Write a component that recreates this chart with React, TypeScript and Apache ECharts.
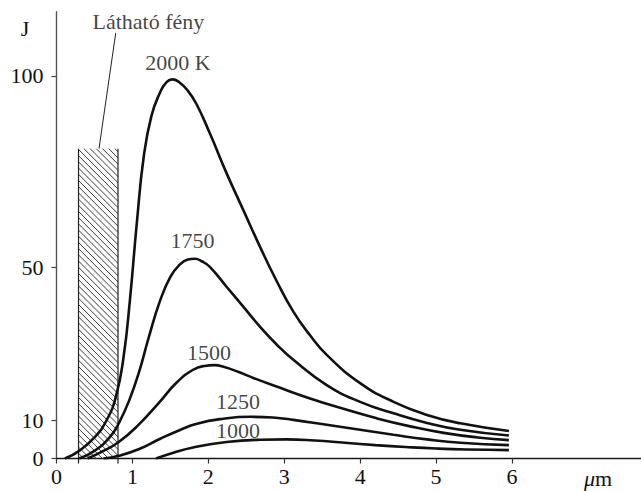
import React, { useEffect, useRef } from "react";
import * as echarts from "echarts";

// wavelength (µm) vs. emitted intensity J
const xTicks = [0, 1, 2, 3, 4, 5, 6];
const yTicks = [0, 10, 50, 100];

const curve2000: [number, number][] = [
  [0.11, 0], [0.3, 2.0], [0.5, 5.5], [0.66, 10], [0.78, 16], [0.88, 26], [0.97, 42], [1.06, 62],
  [1.15, 79], [1.25, 89.5], [1.36, 95.5], [1.45, 98.4], [1.53, 99.1], [1.62, 98.3], [1.72, 96.4],
  [1.84, 92.8], [2.02, 85], [2.24, 74.6], [2.46, 65.0], [2.68, 55.4], [2.9, 46.4], [3.12, 38.4],
  [3.34, 32.2], [3.56, 27.1], [4.0, 19.7], [4.44, 14.8], [4.88, 11.4], [5.32, 9.2], [5.96, 7.2],
];
const curve1750: [number, number][] = [
  [0.3, 0], [0.5, 2], [0.7, 5.5], [0.82, 9.2], [0.96, 15.3], [1.09, 22.8], [1.22, 32],
  [1.36, 41], [1.5, 47.5], [1.62, 50.6], [1.73, 52.0], [1.82, 52.2], [1.92, 51.5], [2.02, 50.1],
  [2.24, 44.9], [2.46, 39.7], [2.68, 34.5], [2.9, 29.8], [3.12, 25.8], [3.56, 19.2], [4.0, 14.8],
  [4.44, 11.8], [4.88, 9.3], [5.32, 7.5], [5.96, 6.0],
];
const curve1500: [number, number][] = [
  [0.41, 0], [0.6, 1.8], [0.82, 4.3], [1.09, 9.0], [1.36, 14.8], [1.58, 19.8], [1.8, 23.2],
  [1.95, 24.2], [2.08, 24.4], [2.2, 24.0], [2.4, 22.6], [2.6, 21.0], [2.9, 18.8], [3.34, 15.7],
  [3.78, 13.0], [4.22, 10.5], [4.66, 8.4], [5.1, 6.7], [5.55, 5.5], [5.96, 4.8],
];
const curve1250: [number, number][] = [
  [0.62, 0], [0.82, 0.7], [1.09, 2.5], [1.36, 5.1], [1.62, 7.4], [1.85, 9.1], [2.2, 10.4],
  [2.55, 10.9], [2.85, 10.7], [3.12, 10.1], [3.56, 8.8], [4.0, 7.5], [4.44, 6.2], [4.88, 5.0],
  [5.32, 4.1], [5.96, 3.5],
];
const curve1000: [number, number][] = [
  [1.31, 0], [1.55, 1.6], [1.8, 2.9], [2.24, 4.3], [2.68, 4.9], [3.03, 5.0], [3.4, 4.7],
  [3.8, 4.1], [4.2, 3.5], [4.6, 3.0], [5.0, 2.6], [5.4, 2.35], [5.96, 2.2],
];
const curves = [curve2000, curve1750, curve1500, curve1250, curve1000];
const curveNames = ["2000 K", "1750", "1500", "1250", "1000"];

// visible band: from, to (µm), drawn height (J)
const visibleBand = [0.29, 0.81, 81];
const bandLabel = "Látható fény";

const FONT = '"Liberation Serif", "Times New Roman", serif';

export default function App() {
  const ref = useRef<HTMLDivElement>(null);
  useEffect(() => {
    if (!ref.current) return;
    const chart = echarts.init(ref.current, null, { renderer: "svg" });
    const labelPoints = [
      { value: [1.6, 103.4], name: curveNames[0] },
      { value: [1.79, 57.0], name: curveNames[1] },
      { value: [2.01, 27.7], name: curveNames[2] },
      { value: [2.39, 15.0], name: curveNames[3] },
      { value: [2.39, 7.3], name: curveNames[4] },
      { value: [1.21, 114.2], name: bandLabel },
    ];
    const option: any = {
      animation: false,
      backgroundColor: "#fff",
      grid: { left: 56.5, right: 0, top: 11.7, bottom: 32.5, containLabel: false },
      xAxis: {
        type: "value",
        min: 0,
        max: 7.7,
        axisLine: { show: true, onZero: true, lineStyle: { color: "#1a1a1a", width: 1.3 } },
        axisTick: { show: true, customValues: xTicks, length: 5, lineStyle: { color: "#333", width: 1.2 } },
        axisLabel: {
          customValues: xTicks,
          margin: 7,
          fontSize: 22,
          fontFamily: FONT,
          color: "#111",
        },
        splitLine: { show: false },
      },
      yAxis: {
        type: "value",
        min: 0,
        max: 116.8,
        axisLine: { show: true, lineStyle: { color: "#555", width: 1.4 } },
        axisTick: { show: true, customValues: yTicks, length: 5, lineStyle: { color: "#444", width: 1.2 } },
        axisLabel: {
          customValues: yTicks,
          margin: 13,
          fontSize: 22,
          fontFamily: FONT,
          color: "#111",
        },
        splitLine: { show: false },
      },
      graphic: [
        {
          type: "text",
          x: 25,
          y: 28,
          style: { text: "J", font: `22px ${FONT}`, fill: "#111", align: "center", verticalAlign: "middle" },
        },
        {
          type: "text",
          x: 598,
          y: 478,
          style: {
            text: "{i|μ}m",
            align: "center",
            verticalAlign: "middle",
            fill: "#111",
            font: `22px ${FONT}`,
            rich: {
              i: { fontStyle: "italic", fontSize: 22, fontFamily: FONT, fill: "#111" },
            },
          },
        },
      ],
      series: [
        {
          type: "custom",
          z: 1,
          clip: false,
          silent: true,
          data: [[visibleBand[0], visibleBand[1], visibleBand[2]]],
          encode: { x: [0, 1], y: 2 },
          renderItem: (params: any, api: any) => {
            const lb = api.coord([api.value(0), 0]);
            const rt = api.coord([api.value(1), api.value(2)]);
            const L = lb[0], B = lb[1], R = rt[0], T = rt[1];
            const children: any[] = [];
            const step = 6.2;
            for (let c = T - R + step / 2; c <= B - L; c += step) {
              const xa = Math.max(L, T - c);
              const xb = Math.min(R, B - c);
              if (xb > xa) {
                children.push({
                  type: "line",
                  shape: { x1: xa, y1: xa + c, x2: xb, y2: xb + c },
                  style: { stroke: "#222", lineWidth: 0.9 },
                });
              }
            }
            children.push({ type: "line", shape: { x1: L, y1: T, x2: L, y2: B + 5 }, style: { stroke: "#222", lineWidth: 1.2 } });
            children.push({ type: "line", shape: { x1: R, y1: T, x2: R, y2: B + 5 }, style: { stroke: "#222", lineWidth: 1.2 } });
            const p1 = api.coord([0.78, 111.2]);
            const p2 = api.coord([0.56, 81]);
            children.push({ type: "line", shape: { x1: p1[0], y1: p1[1], x2: p2[0], y2: p2[1] }, style: { stroke: "#222", lineWidth: 1 } });
            return { type: "group", children };
          },
        },
        ...curves.map((d, i) => ({
          type: "line",
          name: curveNames[i],
          data: d,
          z: 3,
          showSymbol: false,
          symbol: "none",
          smooth: 0.5,
          lineStyle: { color: "#111", width: 2.6 },
          silent: true,
        })),
        {
          type: "scatter",
          z: 4,
          clip: false,
          symbolSize: 0,
          silent: true,
          data: labelPoints,
          label: {
            show: true,
            position: "inside",
            formatter: "{b}",
            fontSize: 22,
            fontFamily: FONT,
            color: "#111",
          },
        },
      ],
    };
    chart.setOption(option);
    return () => chart.dispose();
  }, []);
  return (
    <div
      ref={ref}
      style={{ position: "fixed", left: 0, top: 0, width: 641, height: 491, background: "#fff" }}
    />
  );
}
